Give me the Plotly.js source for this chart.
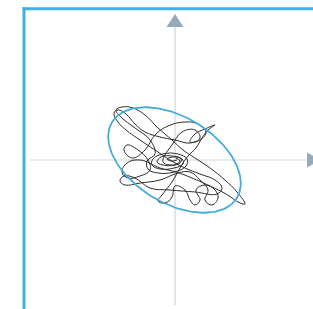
<!DOCTYPE html>
<html><head><meta charset="utf-8">
<script src="https://cdn.plot.ly/plotly-3.0.1.min.js"></script>
<style>html,body{margin:0;padding:0;background:#fff}#chart{width:313px;height:309px}</style>
</head><body><div id="chart"></div>
<script>
// Trajectory (centre of pressure path); origin at axis crossing, y up
const pathX = [1,5,-1,-12,-18,-14,-3,7,8,-1,-15,-23,-22,-12,3,12,11,-1,-17,-27,-28,-20,
 -25,-40,-54,-59,-53,-42,-30,-17,-3,8,
 20,35,50,62,70,65,51,35,17,1,
 -15,-35,-48,-53,-47,-35,-25,-27,-37,-48,-51,-43,
 -30,-20,-7,10,23,31,25,15,20,30,40,33,27,21,13,
 5,-3,-13,-17,-10,-3,0,10,15,20,25,21,30,40,43,37,30,33,25,15,
 3,-15,-35,-50,-55,-51,-40,-25,-5,20,42,47,40,25,10,
 -5,-20,-35,-49,-57,-61,-57,-49,-40,-30,-15,0,15,25,20,7,-3,-10,
 -12,-5,5,6,0,-8,-4,2];
const pathY = [2,-1,-5,-5,-2,3,4,1,-4,-8,-9,-5,1,6,6,1,-6,-12,-13,-9,-1,6,
 20,32,43,50,53,52,45,32,20,10,
 2,-8,-20,-32,-44,-43,-34,-26,-18,-12,
 -8,0,-3,-12,-18,-16,-10,0,10,15,10,2,
 10,25,34,38,36,28,20,18,26,31,35,30,22,12,4,
 -8,-22,-35,-41,-43,-37,-26,-30,-40,-45,-40,-30,-25,-30,-38,-45,-40,-30,-20,-12,
 -13,-20,-23,-25,-21,-16,-18,-28,-30,-32,-34,-28,-20,-14,-8,
 0,10,20,30,38,47,50,46,36,28,23,20,17,22,30,28,15,5,
 -2,-5,-3,1,3,1,-1,0];
// Confidence ellipse parameters: centre [x, y], semi-axes [major, minor], tilt in degrees
const ellipseCenter = [-0.5, 0];
const ellipseAxes = [73, 43];
const ellipseAngle = [-31.2];

const ex = [], ey = [];
const th = ellipseAngle[0] * Math.PI / 180;
for (let i = 0; i <= 180; i++) {
  const t = i / 180 * 2 * Math.PI;
  const u = ellipseAxes[0] * Math.cos(t), v = ellipseAxes[1] * Math.sin(t);
  ex.push(ellipseCenter[0] + u * Math.cos(th) - v * Math.sin(th));
  ey.push(ellipseCenter[1] + u * Math.sin(th) + v * Math.cos(th));
}

const traces = [
  {x: pathX, y: pathY, mode: 'lines', line: {color: '#2e2e2e', width: 1, shape: 'spline', smoothing: 1.2}, hoverinfo: 'skip'},
  {x: ex, y: ey, mode: 'lines', line: {color: '#45acd9', width: 1.8}, hoverinfo: 'skip'}
];
const axisCol = '#c9d5df', arrowCol = '#93abbd', borderCol = '#3db2e3';
const layout = {
  width: 313, height: 309, margin: {l: 0, r: 0, t: 0, b: 0},
  paper_bgcolor: '#fff', plot_bgcolor: '#fff', showlegend: false,
  xaxis: {range: [-175, 138], visible: false, fixedrange: true},
  yaxis: {range: [-149, 160], visible: false, fixedrange: true},
  shapes: [
    {type: 'line', layer: 'below', x0: -145, x1: 133, y0: 0, y1: 0, line: {color: axisCol, width: 1.2}},
    {type: 'line', layer: 'below', x0: 0, x1: 0, y0: -145, y1: 133, line: {color: axisCol, width: 1.2}},
    {type: 'path', layer: 'below', path: 'M -8.5 133 L 8.5 133 L 0 146 Z', fillcolor: arrowCol, line: {width: 0}},
    {type: 'path', layer: 'below', path: 'M 132 7.5 L 132 -7.5 L 146 0 Z', fillcolor: arrowCol, line: {width: 0}},
    {type: 'line', xref: 'paper', yref: 'paper', x0: 24/313, x1: 24/313, y0: 0, y1: 1 - 7.2/309, line: {color: borderCol, width: 3}},
    {type: 'line', xref: 'paper', yref: 'paper', x0: 22.5/313, x1: 1, y0: 1 - 8.7/309, y1: 1 - 8.7/309, line: {color: borderCol, width: 3}}
  ]
};
Plotly.newPlot('chart', traces, layout, {displayModeBar: false, staticPlot: true});
</script></body></html>
